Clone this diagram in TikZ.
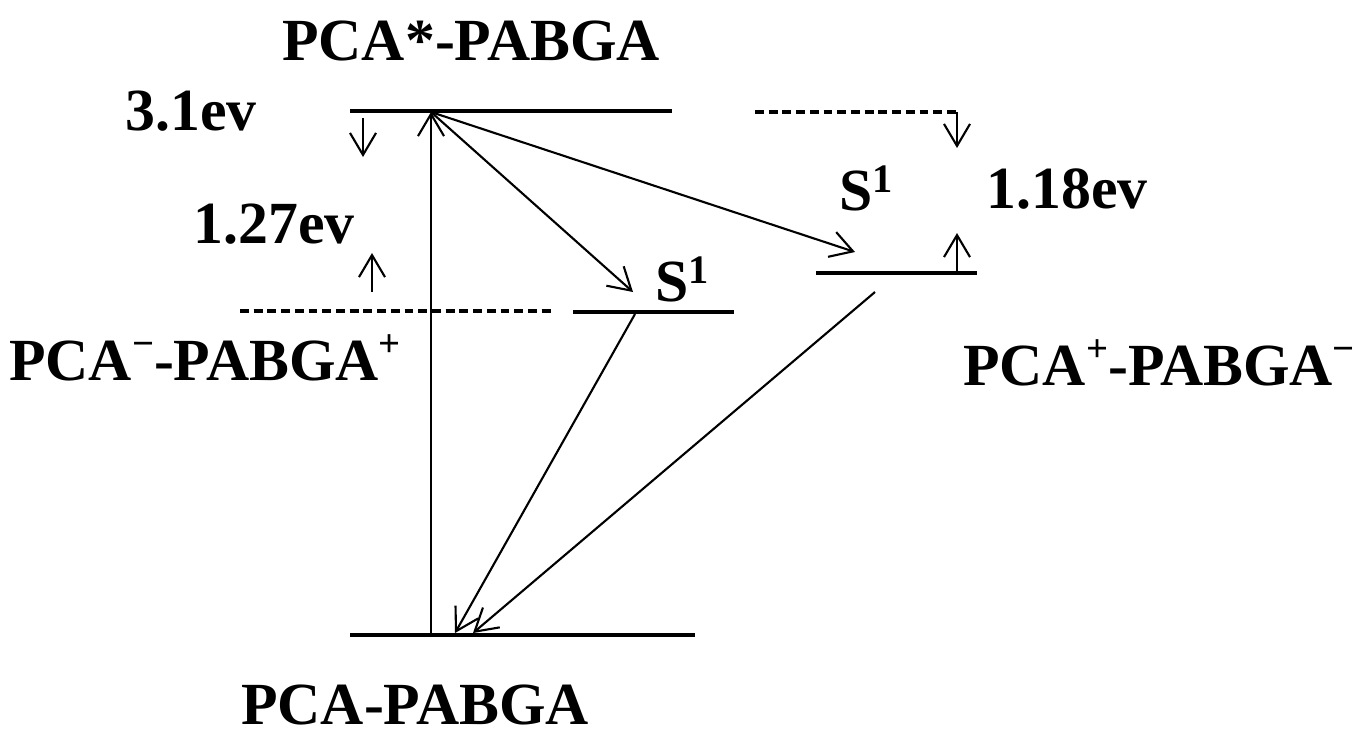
\documentclass[tikz,border=0pt]{standalone}
\usepackage{fontspec}
\setmainfont{Liberation Serif}
\usetikzlibrary{arrows.meta}
\newcommand{\chg}[1]{\raisebox{6.6pt}{\fontsize{11}{11}\selectfont #1}}
\newcommand{\idx}[1]{\raisebox{5pt}{\fontsize{11.5}{11.5}\selectfont #1}}

\begin{document}
\begin{tikzpicture}[x=0.01cm, y=-0.01cm,
    level/.style={line width=0.95pt},
    lbl/.style={font=\fontsize{17}{20}\selectfont\bfseries, inner sep=0pt, anchor=base},
    arr/.style={-{Straight Barb[length=2.2mm, width=2.6mm]}, line width=0.6pt},
    gap/.style={dash pattern=on 2.5pt off 1.4pt, line width=0.9pt}
  ]
    \useasboundingbox (0,0) rectangle (1361,732);

    \coordinate (excL) at (350,111);  \coordinate (excR) at (672,111);
    \coordinate (midL) at (573,312);  \coordinate (midR) at (734,312);
    \coordinate (rgtL) at (816,273);  \coordinate (rgtR) at (977,273);
    \coordinate (gndL) at (350,635);  \coordinate (gndR) at (695,635);
    \coordinate (exc) at (431,112);   \coordinate (gnd) at (431,635);
    \coordinate (midIn) at (633,292); \coordinate (midOut) at (635,314);
    \coordinate (rgtIn) at (855,252); \coordinate (rgtOut) at (875,292);
    \coordinate (gndA) at (455,633);  \coordinate (gndB) at (473,633);
    \coordinate (ctL) at (240,311);   \coordinate (ctR) at (552,311);
    \coordinate (cpL) at (755,112);   \coordinate (cpR) at (957,112);
    \coordinate (cpDn) at (957,148);
    \coordinate (upR0) at (957,273);  \coordinate (upR1) at (957,233);
    \coordinate (dnL0) at (363,118);  \coordinate (dnL1) at (363,157);
    \coordinate (upL0) at (372,292);  \coordinate (upL1) at (372,253);

    \node[lbl] (excited) at (471,60) {PCA*-PABGA};
    \node[lbl] (ground) at (415,724) {PCA-PABGA};
    \node[lbl] (ctState) at (205,380) {PCA\chg{−}-PABGA\chg{+}};
    \node[lbl] (cpState) at (1159,385) {PCA\chg{+}-PABGA\chg{−}};
    \node[lbl] (eExc) at (191,130) {3.1ev};
    \node[lbl] (eCt) at (274,243) {1.27ev};
    \node[lbl] (eCp) at (1067,208) {1.18ev};
    \node[lbl] (sMid) at (682,301) {S\idx{1}};
    \node[lbl] (sRgt) at (866,210) {S\idx{1}};

    \draw[level] (excL) -- (excR);
    \draw[level] (midL) -- (midR);
    \draw[level] (rgtL) -- (rgtR);
    \draw[level] (gndL) -- (gndR);
    \draw[gap] (ctL) -- (ctR);
    \draw[gap] (cpL) -- (cpR);

    \draw[arr] (gnd) -- (exc);
    \draw[arr] (exc) -- (midIn);
    \draw[arr] (exc) -- (rgtIn);
    \draw[arr] (midOut) -- (gndA);
    \draw[arr] (rgtOut) -- (gndB);
    \draw[arr] (cpR) -- (cpDn);
    \draw[arr] (upR0) -- (upR1);
    \draw[arr] (dnL0) -- (dnL1);
    \draw[arr] (upL0) -- (upL1);
\end{tikzpicture}
\end{document}
